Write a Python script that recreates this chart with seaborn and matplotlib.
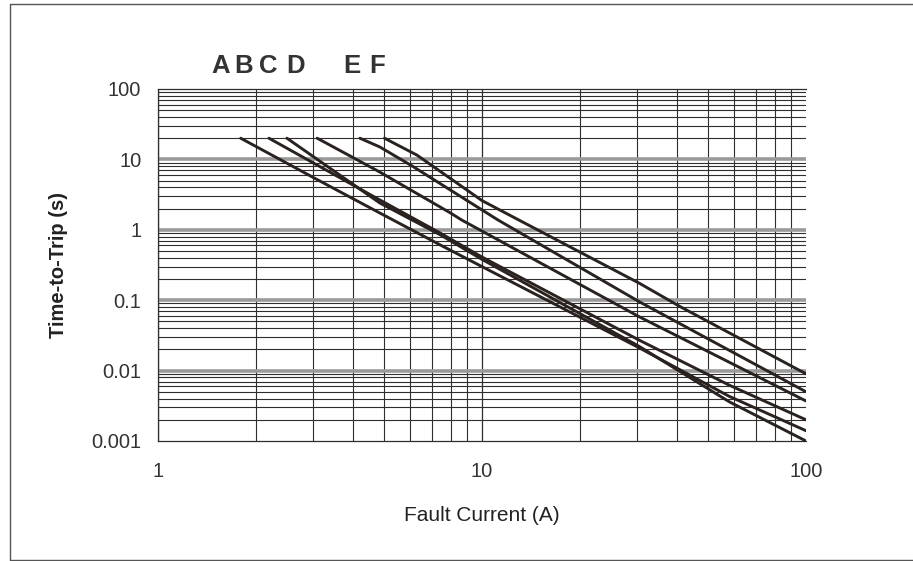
import numpy as np
import pandas as pd
import matplotlib
matplotlib.use("Agg")
import matplotlib.pyplot as plt
from matplotlib.ticker import LogLocator, FixedLocator, FixedFormatter, NullFormatter
from matplotlib.lines import Line2D
import seaborn as sns

# ---------------- data ----------------
curve_labels = ["A", "B", "C", "D", "E", "F"]

a_current = [1.8, 3.0, 4.84, 7.43, 10.0, 30.6, 58.0, 100.0]
a_time    = [20.0, 5.6, 1.73, 0.61, 0.30, 0.021, 0.0043, 0.0014]

b_current = [2.2, 4.84, 7.43, 10.0, 30.6, 58.0, 100.0]
b_time    = [20.0, 2.65, 0.90, 0.41, 0.027, 0.0062, 0.002]

c_current = [2.5, 4.84, 7.43, 10.0, 30.6, 58.0, 100.0]
c_time    = [20.0, 2.4, 0.85, 0.38, 0.022, 0.0036, 0.001]

d_current = [3.1, 4.84, 8.0, 8.65, 30.6, 100.0]
d_time    = [20.0, 6.6, 1.73, 1.38, 0.058, 0.0037]

e_current = [4.2, 4.84, 6.13, 11.2, 30.6, 100.0]
e_time    = [20.0, 15.0, 7.9, 1.38, 0.095, 0.005]

f_current = [5.0, 6.3, 10.0, 13.1, 30.6, 40.9, 100.0]
f_time    = [20.0, 11.5, 2.6, 1.35, 0.174, 0.081, 0.009]

x_tick_values = [1, 10, 100]
x_tick_labels = ["1", "10", "100"]
y_tick_values = [0.001, 0.01, 0.1, 1, 10, 100]
y_tick_labels = ["0.001", "0.01", "0.1", "1", "10", "100"]

x_label = "Fault Current (A)"
y_label = "Time-to-Trip (s)"

# ---------------- build long table ----------------
series = {
    "A": (a_current, a_time),
    "B": (b_current, b_time),
    "C": (c_current, c_time),
    "D": (d_current, d_time),
    "E": (e_current, e_time),
    "F": (f_current, f_time),
}
rows = []
for name in curve_labels:
    xs, ys = series[name]
    for xv, yv in zip(xs, ys):
        rows.append({"curve": name, "current": xv, "time": yv})
df = pd.DataFrame(rows)

# ---------------- figure ----------------
sns.set_theme(style="white")
plt.rcParams["font.family"] = ["Liberation Sans", "DejaVu Sans"]

W, H = 913, 561
fig = plt.figure(figsize=(W / 100, H / 100), dpi=100)
ax = fig.add_axes([158 / W, 1 - 441 / H, (806 - 158) / W, (441 - 89) / H])

line_color = "#2a221f"
sns.lineplot(data=df, x="current", y="time", hue="curve", units="curve",
             estimator=None, palette=[line_color] * len(curve_labels),
             linewidth=2.1, legend=False, ax=ax, sort=True, zorder=5)

ax.set_xscale("log")
ax.set_yscale("log")
ax.set_xlim(1, 100)
ax.set_ylim(0.001, 100)

ax.xaxis.set_major_locator(FixedLocator(x_tick_values))
ax.xaxis.set_major_formatter(FixedFormatter(x_tick_labels))
ax.yaxis.set_major_locator(FixedLocator(y_tick_values))
ax.yaxis.set_major_formatter(FixedFormatter(y_tick_labels))
ax.xaxis.set_minor_locator(LogLocator(base=10, subs=np.arange(2, 10), numticks=20))
ax.yaxis.set_minor_locator(LogLocator(base=10, subs=np.arange(2, 10), numticks=20))
ax.xaxis.set_minor_formatter(NullFormatter())
ax.yaxis.set_minor_formatter(NullFormatter())

ax.tick_params(which="both", length=0)
ax.tick_params(axis="y", which="major", pad=12, labelsize=14.5, labelcolor="#333333")
ax.tick_params(axis="x", which="major", pad=15, labelsize=14.5, labelcolor="#333333")

# grid
ax.grid(which="minor", axis="both", color="#2e2e2e", linewidth=0.8)
ax.grid(which="major", axis="x", color="#2e2e2e", linewidth=0.9)
ax.grid(which="major", axis="y", color="#9a9a9a", linewidth=2.6)
ax.set_axisbelow(True)
xt = ax.xaxis.get_major_ticks()
xt[-1].gridline.set_visible(False)
yt = ax.yaxis.get_major_ticks()
yt[0].gridline.set_visible(False)
yt[-1].gridline.set_visible(False)

for side in ["left", "top", "bottom"]:
    ax.spines[side].set_visible(True)
    ax.spines[side].set_color("#2e2e2e")
    ax.spines[side].set_linewidth(0.9)
ax.spines["right"].set_visible(False)

ax.set_xlabel(x_label, fontsize=15, color="#222222", labelpad=18)
ax.set_ylabel(y_label, fontsize=14.5, fontweight="bold", color="#222222", labelpad=17)

# curve letters above the chart
letter_x_px = [221, 244, 268, 296, 352, 377]
for lab, px in zip(curve_labels, letter_x_px):
    fig.text(px / W, 1 - 66 / H, lab, ha="center", va="center",
             fontsize=18.5, fontweight="heavy", color="#333333",
             family=["Liberation Sans", "DejaVu Sans"])

# outer frame of the document
frame_color = "#555555"
fig.add_artist(Line2D([10 / W, 10 / W], [1 - 560 / H, 1 - 4 / H], transform=fig.transFigure,
                      color=frame_color, linewidth=1.0))
fig.add_artist(Line2D([10 / W, 1.0], [1 - 4 / H, 1 - 4 / H], transform=fig.transFigure,
                      color=frame_color, linewidth=1.0))
fig.add_artist(Line2D([10 / W, 1.0], [1 - 560 / H, 1 - 560 / H], transform=fig.transFigure,
                      color=frame_color, linewidth=1.0))

fig.savefig("out.png", dpi=100)
